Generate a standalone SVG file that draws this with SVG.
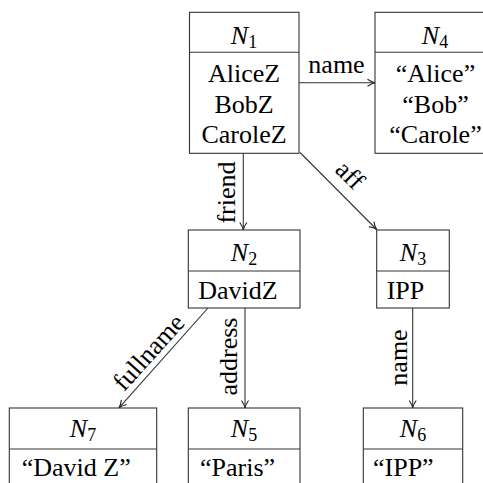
<svg xmlns="http://www.w3.org/2000/svg" width="483" height="483" viewBox="0 0 483 483">
<defs>
<style>
.box{fill:#fff;stroke:#333;stroke-width:1.1}
.div{stroke:#333;stroke-width:1.1}
text{font-family:'Liberation Serif','Times New Roman',serif;font-size:26px;fill:#000}
.c{text-anchor:middle}
.sub{font-size:18px;font-style:normal}
.edge{stroke:#333;stroke-width:1.1;fill:none;marker-end:url(#ah)}
</style>
<marker id="ah" viewBox="0 0 10 10" refX="9.5" refY="5" markerWidth="10" markerHeight="10" markerUnits="userSpaceOnUse" orient="auto">
<path d="M2,1.5 Q6,4.3 9.5,5 Q6,5.7 2,8.5" fill="none" stroke="#222" stroke-width="1.1"/>
</marker>
</defs>
<rect width="483" height="483" fill="#fff"/>
<g id="connectors">
<line class="edge" x1="299" y1="82.7" x2="375" y2="82.7"/>
<text x="336.5" y="73" class="c">name</text>
<line class="edge" x1="243.3" y1="153.3" x2="243.3" y2="230"/>
<text transform="translate(235,192.5) rotate(-90)" class="c">friend</text>
<line class="edge" x1="300" y1="152.5" x2="376.7" y2="229.5"/>
<text transform="translate(344,181) rotate(45)" class="c">aff</text>
<line class="edge" x1="208" y1="308" x2="119" y2="407.8"/>
<text transform="translate(155,358) rotate(-48)" class="c">fullname</text>
<line class="edge" x1="245" y1="308" x2="245" y2="408"/>
<text transform="translate(237,356.5) rotate(-90)" class="c">address</text>
<line class="edge" x1="412.7" y1="308" x2="412.7" y2="408"/>
<text transform="translate(407,357.5) rotate(-90)" class="c">name</text>
</g>
<g id="N1">
<rect class="box" x="189.5" y="12.3" width="109.5" height="141"/>
<line class="div" x1="189.5" y1="52.3" x2="299" y2="52.3"/>
<text x="244" y="43.5" class="c"><tspan font-style="italic">N</tspan><tspan class="sub" dy="4">1</tspan></text>
<text x="244" y="82" class="c">AliceZ</text>
<text x="244" y="112.7" class="c">BobZ</text>
<text x="244" y="143.3" class="c">CaroleZ</text>
</g>
<g id="N4">
<rect class="box" x="375" y="12.3" width="121" height="141"/>
<line class="div" x1="375" y1="52.3" x2="496" y2="52.3"/>
<text x="435" y="43.5" class="c"><tspan font-style="italic">N</tspan><tspan class="sub" dy="4">4</tspan></text>
<text x="435.5" y="82" class="c">“Alice”</text>
<text x="435.5" y="112.7" class="c">“Bob”</text>
<text x="435.5" y="143.3" class="c">“Carole”</text>
</g>
<g id="N2">
<rect class="box" x="188.3" y="230" width="111.7" height="78"/>
<line class="div" x1="188.3" y1="271" x2="300" y2="271"/>
<text x="244" y="260.5" class="c"><tspan font-style="italic">N</tspan><tspan class="sub" dy="4">2</tspan></text>
<text x="198.3" y="298.5">DavidZ</text>
</g>
<g id="N3">
<rect class="box" x="376.7" y="230" width="72.6" height="78"/>
<line class="div" x1="376.7" y1="271" x2="449.3" y2="271"/>
<text x="413" y="260.5" class="c"><tspan font-style="italic">N</tspan><tspan class="sub" dy="4">3</tspan></text>
<text x="386.7" y="298.5">IPP</text>
</g>
<g id="N7">
<rect class="box" x="9.3" y="408" width="147.4" height="100"/>
<line class="div" x1="9.3" y1="449" x2="156.7" y2="449"/>
<text x="83" y="437" class="c"><tspan font-style="italic">N</tspan><tspan class="sub" dy="4">7</tspan></text>
<text x="21.7" y="475.5">“David Z”</text>
</g>
<g id="N5">
<rect class="box" x="188.3" y="408" width="111.7" height="100"/>
<line class="div" x1="188.3" y1="449" x2="300" y2="449"/>
<text x="244" y="437" class="c"><tspan font-style="italic">N</tspan><tspan class="sub" dy="4">5</tspan></text>
<text x="200" y="475.5">“Paris”</text>
</g>
<g id="N6">
<rect class="box" x="363.3" y="408" width="99.4" height="100"/>
<line class="div" x1="363.3" y1="449" x2="462.7" y2="449"/>
<text x="413" y="437" class="c"><tspan font-style="italic">N</tspan><tspan class="sub" dy="4">6</tspan></text>
<text x="373" y="475.5">“IPP”</text>
</g>
</svg>
